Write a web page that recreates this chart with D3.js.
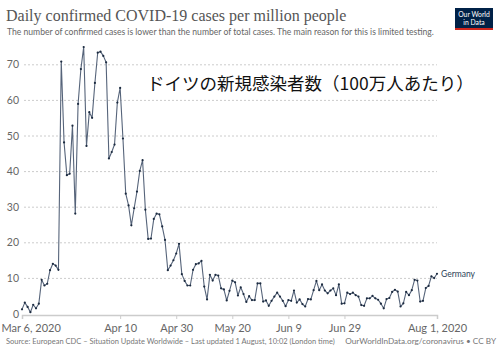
<!DOCTYPE html>
<html>
<head>
<meta charset="utf-8">
<script src="https://cdn.jsdelivr.net/npm/d3@7"></script>
<style>
  html, body { margin: 0; padding: 0; background: #fff; }
  svg { display: block; }
</style>
</head>
<body>
<div id="chart"></div>
<script>

// daily confirmed cases per million, Germany, one value per day from Mar 6, 2020
const startDay = "2020-03-06";
const germanyCases = [
  1.3, 3.2, 2.0, 0.5, 2.6, 1.6, 2.9, 9.6, 8.0, 8.5,
  12.3, 14.1, 13.6, 12.4, 70.9, 48.2, 39.0, 39.4, 52.9, 28.2,
  59.0, 68.8, 75.0, 47.2, 56.7, 55.1, 64.9, 73.4, 73.7, 72.5,
  70.7, 43.7, 45.5, 47.6, 59.4, 63.5, 49.3, 33.8, 30.5, 24.9,
  29.7, 34.4, 40.2, 43.2, 29.3, 21.1, 21.2, 26.7, 28.2, 28.0,
  24.6, 20.8, 12.3, 13.6, 15.1, 17.0, 19.7, 11.2, 9.3, 8.0,
  8.0, 12.4, 14.0, 14.2, 14.9, 7.7, 4.1, 11.0, 9.4, 11.0,
  10.8, 7.2, 6.9, 3.8, 6.5, 9.4, 8.9, 5.2, 7.5, 5.6,
  3.4, 5.0, 3.9, 3.9, 8.6, 8.6, 3.5, 3.8, 2.3, 3.7,
  4.9, 6.0, 4.9, 3.7, 2.2, 3.9, 3.7, 6.6, 3.2, 4.1,
  2.8, 2.1, 4.2, 4.1, 6.7, 9.3, 6.7, 8.3, 6.6, 5.8,
  6.6, 7.2, 5.3, 8.3, 2.9, 3.0, 6.0, 5.6, 6.0, 5.3,
  4.9, 2.5, 2.3, 4.4, 4.4, 5.1, 4.4, 4.0, 2.9, 1.6,
  4.2, 4.5, 6.2, 6.8, 6.3, 2.1, 3.0, 6.2, 5.3, 6.7,
  9.6, 9.4, 3.5, 3.7, 7.3, 7.9, 10.6, 10.1, 11.3
];

const xTickDates  = ["2020-03-06", "2020-04-10", "2020-04-30", "2020-05-20", "2020-06-09", "2020-06-29", "2020-08-01"];
const xTickLabels = ["Mar 6, 2020", "Apr 10", "Apr 30", "May 20", "Jun 9", "Jun 29", "Aug 1, 2020"];
const yTicks = [0, 10, 20, 30, 40, 50, 60, 70];

const titleText = "Daily confirmed COVID-19 cases per million people";
const subtitleText = "The number of confirmed cases is lower than the number of total cases. The main reason for this is limited testing.";
const sourceText = "Source: European CDC – Situation Update Worldwide – Last updated 1 August, 10:02 (London time)";
const creditText = "OurWorldInData.org/coronavirus • CC BY";
const noteText = "ドイツの新規感染者数（100万人あたり）";
const seriesName = "Germany";


function drawChart({
  selector = "#chart",
  width = 500,
  height = 353,
  plot = { left: 22, right: 437, top: 47, bottom: 314 }
} = {}) {

  const parse = d3.utcParse("%Y-%m-%d");
  const t0 = parse(startDay);

  const rows = germanyCases.map((v, i) => ({
    date: d3.utcDay.offset(t0, i),
    value: v
  }));

  const svg = d3.select(selector).append("svg")
    .attr("width", width)
    .attr("height", height)
    .style("font-family", "Lato, sans-serif");

  const x = d3.scaleUtc()
    .domain([t0, rows[rows.length - 1].date])
    .range([plot.left, plot.right]);

  const y = d3.scaleLinear()
    .domain([0, 75])
    .range([plot.bottom, plot.top]);

  // header
  svg.append("text")
    .attr("x", 6)
    .attr("y", 21)
    .attr("font-family", "'Liberation Serif', 'DejaVu Serif', serif")
    .attr("font-size", 16)
    .attr("fill", "#555")
    .text(titleText);

  svg.append("text")
    .attr("x", 7)
    .attr("y", 35)
    .attr("font-size", 8.6)
    .attr("fill", "#666")
    .text(subtitleText);

  // logo
  const logo = svg.append("g").attr("transform", "translate(455,8)");
  logo.append("rect").attr("width", 38).attr("height", 22).attr("fill", "#002147");
  logo.append("rect").attr("y", 20).attr("width", 38).attr("height", 2).attr("fill", "#ce261e");
  logo.selectAll("text.logo")
    .data(["Our World", "in Data"])
    .join("text")
    .attr("class", "logo")
    .attr("x", 19)
    .attr("y", (d, i) => 9 + i * 7.5)
    .attr("text-anchor", "middle")
    .attr("font-size", 6.8)
    .attr("fill", "#fff")
    .text(d => d);

  // y grid + labels
  const yAxis = svg.append("g").attr("class", "y-axis");

  yAxis.selectAll("line")
    .data(yTicks.filter(d => d > 0))
    .join("line")
    .attr("x1", plot.left + 2)
    .attr("x2", plot.right)
    .attr("y1", d => y(d))
    .attr("y2", d => y(d))
    .attr("stroke", "#ccc")
    .attr("stroke-width", 1)
    .attr("stroke-dasharray", "2,2");

  yAxis.selectAll("text")
    .data(yTicks)
    .join("text")
    .attr("x", plot.left - 3)
    .attr("y", d => y(d))
    .attr("dy", "0.35em")
    .attr("text-anchor", "end")
    .attr("font-size", 10.5)
    .attr("fill", "#666")
    .text(d => d);

  // x axis
  const xAxis = svg.append("g")
    .attr("transform", `translate(0,${plot.bottom + 1})`)
    .call(d3.axisBottom(x)
      .tickValues(xTickDates.map(parse))
      .tickFormat((d, i) => xTickLabels[i])
      .tickSizeOuter(0)
      .tickSize(4));

  xAxis.select(".domain").attr("stroke", "#ccc").attr("stroke-width", 1.5);
  xAxis.selectAll(".tick line").attr("stroke", "#ccc");
  xAxis.selectAll(".tick text")
    .attr("font-family", "Lato, sans-serif")
    .attr("font-size", 11)
    .attr("fill", "#666")
    .attr("dy", "0.95em");

  // first label sits flush with the left edge
  xAxis.selectAll(".tick text")
    .filter((d, i) => i === 0)
    .attr("text-anchor", "start")
    .attr("x", -plot.left + 1);

  // the series
  const line = d3.line()
    .x(d => x(d.date))
    .y(d => y(d.value));

  svg.append("path")
    .datum(rows)
    .attr("fill", "none")
    .attr("stroke", "#56647a")
    .attr("stroke-width", 1.1)
    .attr("stroke-linejoin", "round")
    .attr("d", line);

  svg.append("g")
    .selectAll("circle")
    .data(rows)
    .join("circle")
    .attr("cx", d => x(d.date))
    .attr("cy", d => y(d.value))
    .attr("r", 1.1)
    .attr("fill", "#1c2b40");

  const last = rows[rows.length - 1];
  svg.append("text")
    .attr("x", x(last.date) + 4)
    .attr("y", y(last.value))
    .attr("dy", "0.35em")
    .attr("font-size", 8.5)
    .attr("fill", "#2d3f58")
    .text(seriesName);

  // japanese note
  svg.append("text")
    .attr("x", 147)
    .attr("y", 90)
    .attr("font-family", "'Noto Sans CJK JP', sans-serif")
    .attr("font-size", 17.5)
    .attr("fill", "#111")
    .text(noteText);

  // footer
  svg.append("text")
    .attr("x", 6)
    .attr("y", 344)
    .attr("font-size", 7.5)
    .attr("fill", "#777")
    .text(sourceText);

  svg.append("text")
    .attr("x", 496)
    .attr("y", 344)
    .attr("text-anchor", "end")
    .attr("font-size", 8.2)
    .attr("fill", "#777")
    .text(creditText);
}

drawChart();
</script>
</body>
</html>
